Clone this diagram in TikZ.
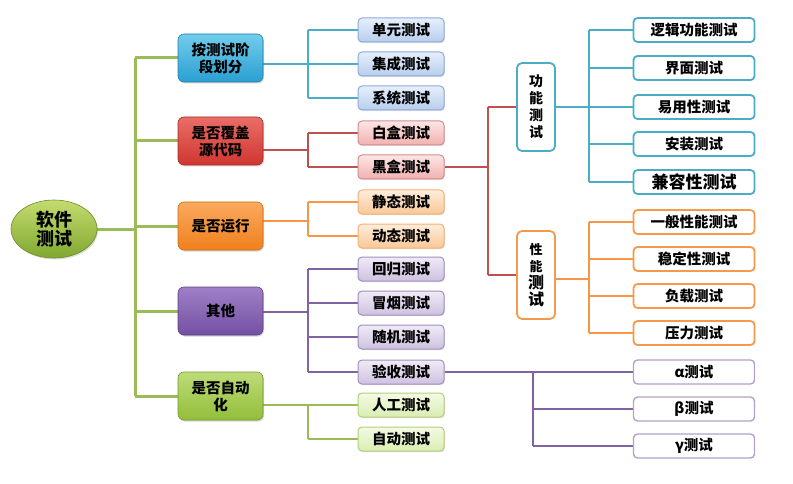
\documentclass[tikz,border=0pt]{standalone}
\usepackage{fontspec}
\newfontfamily\cjk{Noto Sans CJK SC}
\usetikzlibrary{shadows,shapes.geometric,backgrounds}
\definecolor{gline}{HTML}{9BBB59}
\definecolor{tline}{HTML}{4BACC6}
\definecolor{rline}{HTML}{C0504D}
\definecolor{oline}{HTML}{F79646}
\definecolor{pline}{HTML}{8064A2}
\definecolor{rootA}{HTML}{C4DB6E}\definecolor{rootB}{HTML}{7FA830}
\definecolor{bA}{HTML}{72CDEC}\definecolor{bB}{HTML}{2A9FD2}
\definecolor{rA}{HTML}{EA6E66}\definecolor{rB}{HTML}{CF3630}
\definecolor{oA}{HTML}{FAAA5E}\definecolor{oB}{HTML}{F0801C}
\definecolor{pA}{HTML}{9E80C6}\definecolor{pB}{HTML}{7450A3}
\definecolor{gA}{HTML}{BEDC78}\definecolor{gB}{HTML}{92BE3A}
\definecolor{sbA}{HTML}{E6EFFB}\definecolor{sbB}{HTML}{B7CEEE}\definecolor{sbD}{HTML}{8EAAD8}
\definecolor{srA}{HTML}{FCE6E6}\definecolor{srB}{HTML}{F0B1AF}\definecolor{srD}{HTML}{D38E8C}
\definecolor{soA}{HTML}{FEEDDC}\definecolor{soB}{HTML}{FAC896}\definecolor{soD}{HTML}{F2B078}
\definecolor{spA}{HTML}{F0EAF6}\definecolor{spB}{HTML}{CEC2E0}\definecolor{spD}{HTML}{A28FBF}
\definecolor{sgA}{HTML}{F4FAE4}\definecolor{sgB}{HTML}{DAEDB2}\definecolor{sgD}{HTML}{B2CE7C}
\definecolor{tbox}{HTML}{4BACC6}
\definecolor{obox}{HTML}{F39A4C}
\definecolor{pbox}{HTML}{B3A2C7}
\tikzset{
  rootnode/.style={ellipse, minimum width=86pt, minimum height=58pt, inner sep=0pt,
    top color=rootA, bottom color=rootB, draw=rootB!85!black, line width=0.6pt, align=center,
    font=\cjk\bfseries\fontsize{18}{19}\selectfont,
    drop shadow={opacity=0.3, shadow xshift=1pt, shadow yshift=-1.5pt}},
  lone/.style n args={3}{rounded corners=6pt, minimum width=85pt, minimum height=48pt,
    inner sep=1pt, align=center, top color=#1, bottom color=#2, draw=#3, line width=0.6pt,
    font=\cjk\bfseries\fontsize{14.5}{17}\selectfont,
    drop shadow={opacity=0.35, shadow xshift=1pt, shadow yshift=-1.5pt}},
  ltwo/.style n args={3}{rounded corners=4pt, minimum width=86pt, minimum height=24pt,
    inner sep=1pt, top color=#1, bottom color=#2, draw=#3, line width=1pt,
    font=\cjk\bfseries\fontsize{14.5}{16}\selectfont,
    drop shadow={opacity=0.25, shadow xshift=0.8pt, shadow yshift=-1.2pt}},
  lthree/.style={rounded corners=4pt, minimum width=121pt, minimum height=24pt,
    inner sep=1pt, fill=white, draw=#1, line width=1.8pt,
    font=\cjk\bfseries\fontsize{14.5}{16}\selectfont},
  vbox/.style={rounded corners=5pt, minimum width=38pt, minimum height=88pt, inner sep=1pt,
    fill=white, draw=#1, line width=1.8pt, align=center,
    font=\cjk\bfseries\fontsize{14}{17}\selectfont},
  link/.style={line width=2.6pt, draw=#1},
}
\begin{document}
\begin{tikzpicture}[x=1pt,y=-1pt]
\useasboundingbox (0,0) rectangle (793,484);
% bend points
\coordinate (tk) at (135,229);
\coordinate (vb) at (308,64);
\coordinate (vr) at (308,150);
\coordinate (vo) at (308,221);
\coordinate (vp) at (308,312);
\coordinate (vg) at (308,405);
\coordinate (vk) at (488,167);
\coordinate (vt) at (589,107);
\coordinate (vq) at (589,279);
\coordinate (vy) at (533,372);

% root
\node[rootnode] (root) at (54,229) {软件\\测试};

% level 1
\node[lone={bA}{bB}{bB!80!black}] (a1) at (220.5,58) {按测试阶\\段划分};
\node[lone={rA}{rB}{rB!80!black}] (a2) at (220.5,141) {是否覆盖\\源代码};
\node[lone={oA}{oB}{oB!85!black}] (a3) at (220.5,226) {是否运行};
\node[lone={pA}{pB}{pB!80!black}] (a4) at (220.5,311) {其他};
\node[lone={gA}{gB}{gB!80!black}] (a5) at (220.5,396) {是否自动\\化};

% level 2
\node[ltwo={sbA}{sbB}{sbD}] (b1) at (401,30) {单元测试};
\node[ltwo={sbA}{sbB}{sbD}] (b2) at (401,64) {集成测试};
\node[ltwo={sbA}{sbB}{sbD}] (b3) at (401,98) {系统测试};
\node[ltwo={srA}{srB}{srD}] (b4) at (401,133) {白盒测试};
\node[ltwo={srA}{srB}{srD}] (b5) at (401,167) {黑盒测试};
\node[ltwo={soA}{soB}{soD}] (b6) at (401,202) {静态测试};
\node[ltwo={soA}{soB}{soD}] (b7) at (401,236) {动态测试};
\node[ltwo={spA}{spB}{spD}] (b8) at (401,269) {回归测试};
\node[ltwo={spA}{spB}{spD}] (b9) at (401,303) {冒烟测试};
\node[ltwo={spA}{spB}{spD}] (b10) at (401,337) {随机测试};
\node[ltwo={spA}{spB}{spD}] (b11) at (401,372) {验收测试};
\node[ltwo={sgA}{sgB}{sgD}] (b12) at (401,405) {人工测试};
\node[ltwo={sgA}{sgB}{sgD}] (b13) at (401,439) {自动测试};

% vertical boxes
\node[vbox=tbox] (gn) at (536,107) {功\\能\\测\\试};
\node[vbox=obox] (pn) at (536,275) {{\fontsize{13}{17}\selectfont 性}\\{\fontsize{13}{17}\selectfont 能}\\{\fontsize{16}{18}\selectfont 测}\\{\fontsize{16}{18}\selectfont 试}};

% level 3
\node[lthree=tbox] (c1) at (694,30) {逻辑功能测试};
\node[lthree=tbox] (c2) at (694,68) {界面测试};
\node[lthree=tbox] (c3) at (694,107) {易用性测试};
\node[lthree=tbox] (c4) at (694,144) {安装测试};
\node[lthree=tbox, font=\cjk\bfseries\fontsize{17}{18}\selectfont] (c5) at (694,182) {兼容性测试};
\node[lthree=obox] (d1) at (694,222) {一般性能测试};
\node[lthree=obox] (d2) at (694,259) {稳定性测试};
\node[lthree=obox] (d3) at (694,296) {负载测试};
\node[lthree=obox] (d4) at (694,333) {压力测试};
\node[lthree=pbox, line width=1.4pt] (e1) at (694,372) {α测试};
\node[lthree=pbox, line width=1.4pt] (e2) at (694,409) {β测试};
\node[lthree=pbox, line width=1.4pt] (e3) at (694,446) {γ测试};

\begin{pgfonlayer}{background}
% trunk
\draw[link=gline, line width=3pt] (root.east) -- (tk);
\draw[link=gline, line width=3pt] (a1.west -| tk) -- (a5.west -| tk);
\foreach \n in {a1,a2,a3,a4,a5} \draw[link=gline, line width=3pt] (\n.west -| tk) -- (\n.west);
% blue
\draw[link=tline] (a1.east |- vb) -- (b2.west);
\draw[link=tline] (b1.west -| vb) -- (b3.west -| vb);
\foreach \n in {b1,b3} \draw[link=tline] (\n.west -| vb) -- (\n.west);
% red
\draw[link=rline] (a2.east |- vr) -- (vr);
\draw[link=rline] (b4.west -| vr) -- (b5.west -| vr);
\foreach \n in {b4,b5} \draw[link=rline] (\n.west -| vr) -- (\n.west);
% orange
\draw[link=oline] (a3.east |- vo) -- (vo);
\draw[link=oline] (b6.west -| vo) -- (b7.west -| vo);
\foreach \n in {b6,b7} \draw[link=oline] (\n.west -| vo) -- (\n.west);
% purple
\draw[link=pline] (a4.east |- vp) -- (vp);
\draw[link=pline] (b8.west -| vp) -- (b11.west -| vp);
\foreach \n in {b8,b9,b10,b11} \draw[link=pline] (\n.west -| vp) -- (\n.west);
% green
\draw[link=gline] (a5.east |- vg) -- (b12.west);
\draw[link=gline] (vg) -- (b13.west -| vg);
\draw[link=gline] (b13.west -| vg) -- (b13.west);
% black box split
\draw[link=rline] (b5.east) -- (vk);
\draw[link=rline] (gn.west -| vk) -- (pn.west -| vk);
\draw[link=rline] (gn.west -| vk) -- (gn.west);
\draw[link=rline] (pn.west -| vk) -- (pn.west);
% functional
\draw[link=tline] (gn.east) -- (vt);
\draw[link=tline] (c1.west -| vt) -- (c5.west -| vt);
\foreach \n in {c1,c2,c3,c4,c5} \draw[link=tline] (\n.west -| vt) -- (\n.west);
% performance
\draw[link=oline] (pn.east |- vq) -- (vq);
\draw[link=oline] (d1.west -| vq) -- (d4.west -| vq);
\foreach \n in {d1,d2,d3,d4} \draw[link=oline] (\n.west -| vq) -- (\n.west);
% acceptance
\draw[link=pline] (b11.east) -- (e1.west);
\draw[link=pline] (vy) -- (e3.west -| vy);
\foreach \n in {e2,e3} \draw[link=pline] (\n.west -| vy) -- (\n.west);
\end{pgfonlayer}
\end{tikzpicture}
\end{document}
